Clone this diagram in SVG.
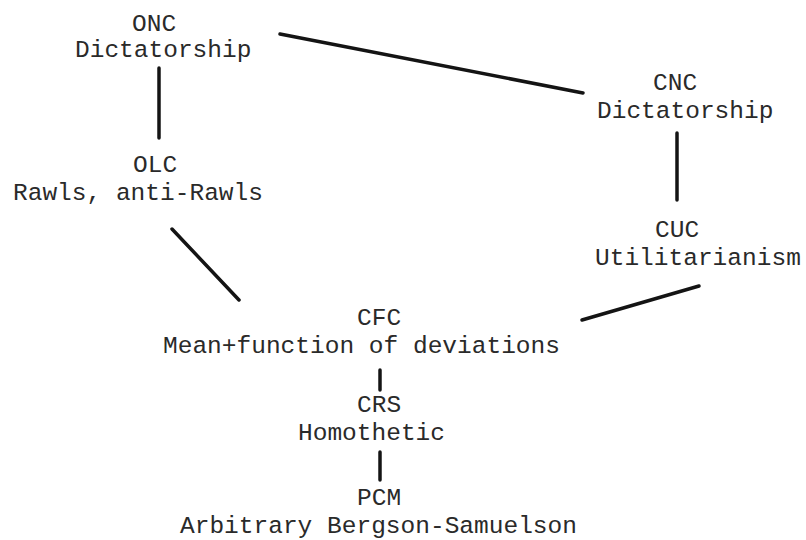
<svg xmlns="http://www.w3.org/2000/svg" width="806" height="540" viewBox="0 0 806 540">
<style>
text{font-family:"Liberation Mono","Courier New",monospace;font-size:24.5px;fill:#2a2a2a}
.c line{stroke:#141414;stroke-width:3.5;stroke-linecap:round}
</style>
<rect width="806" height="540" fill="#fff"/>
<g id="onc"><text x="132" y="31">ONC</text><text x="75" y="57">Dictatorship</text></g>
<g id="cnc"><text x="653" y="90">CNC</text><text x="597" y="118">Dictatorship</text></g>
<g id="olc"><text x="133" y="172">OLC</text><text x="13" y="200">Rawls, anti-Rawls</text></g>
<g id="cuc"><text x="655" y="237">CUC</text><text x="595" y="265">Utilitarianism</text></g>
<g id="cfc"><text x="357" y="325">CFC</text><text x="163" y="353">Mean+function of deviations</text></g>
<g id="crs"><text x="357" y="412">CRS</text><text x="298" y="440">Homothetic</text></g>
<g id="pcm"><text x="357" y="505">PCM</text><text x="180" y="533">Arbitrary Bergson-Samuelson</text></g>
<g class="c" id="connectors">
<line x1="159" y1="68" x2="159" y2="138"/>
<line x1="280" y1="34" x2="583" y2="93"/>
<line x1="677" y1="133" x2="677" y2="200"/>
<line x1="172" y1="229" x2="239" y2="300"/>
<line x1="582" y1="320" x2="699" y2="286"/>
<line x1="380" y1="370" x2="380" y2="390"/>
<line x1="380" y1="452" x2="380" y2="480"/>
</g>
</svg>
